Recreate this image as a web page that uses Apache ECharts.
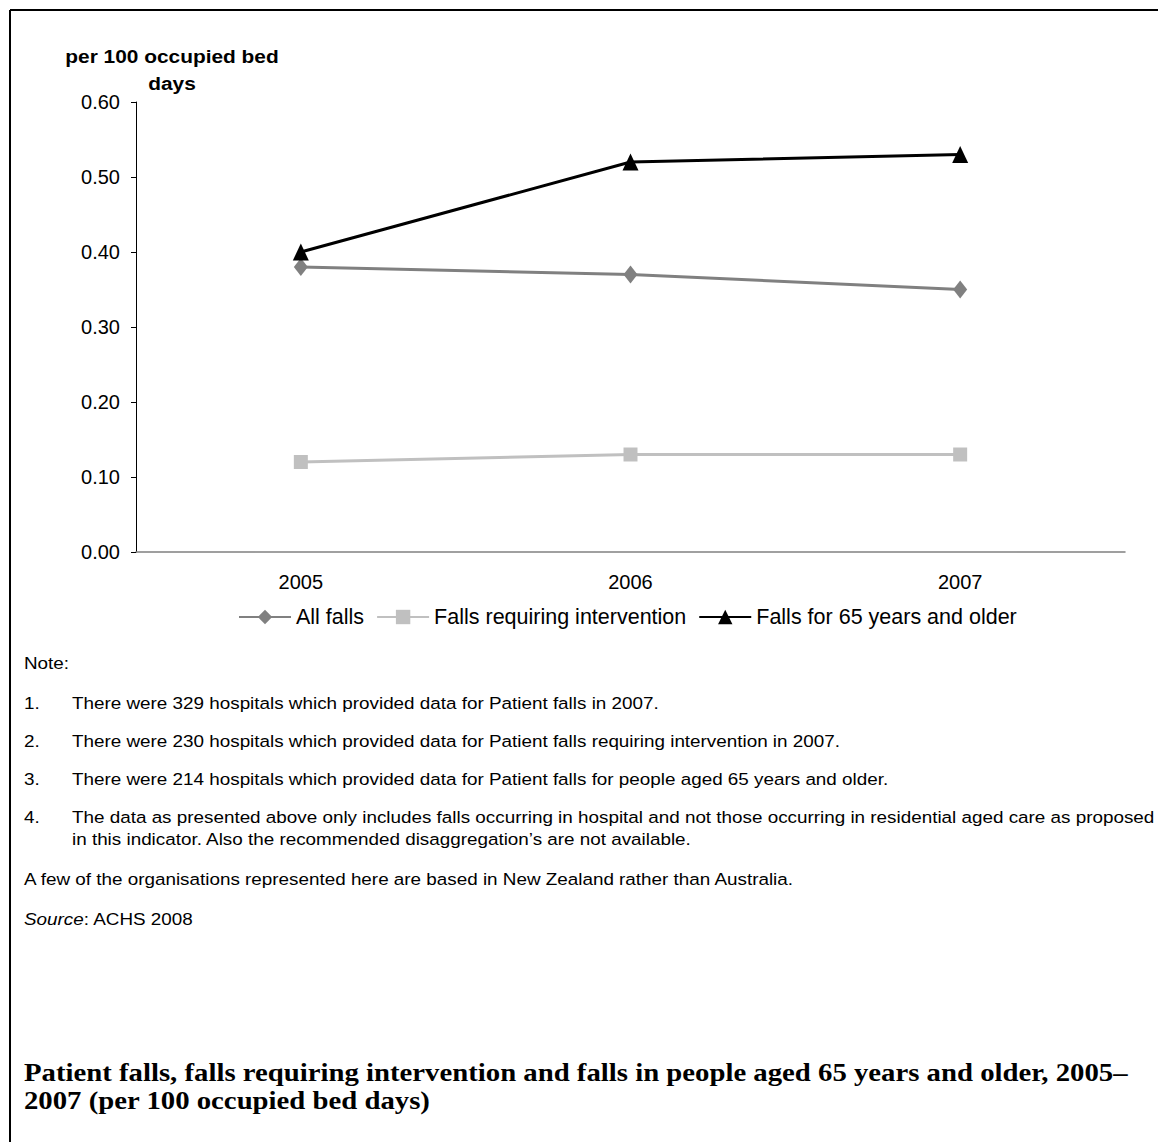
<!DOCTYPE html>
<html>
<head>
<meta charset="utf-8">
<script src="https://cdn.jsdelivr.net/npm/echarts@6/dist/echarts.min.js"></script>
<style>
html,body{margin:0;padding:0;background:#fff;}
#chart{width:1167px;height:1142px;}
</style>
</head>
<body>
<div id="chart"></div>
<script>
// ---- data ----
const categories = ['2005', '2006', '2007'];
const seriesNames = ['All falls', 'Falls requiring intervention', 'Falls for 65 years and older'];
const allFalls = [0.38, 0.37, 0.35];
const fallsIntervention = [0.12, 0.13, 0.13];
const falls65 = [0.40, 0.52, 0.53];
const yMin = 0, yMax = 0.6, yInterval = 0.1;
const yAxisTitle = ['per 100 occupied bed', 'days'];
const noteHeading = 'Note:';
const noteNumbers = ['1.', '2.', '3.', '4.'];
const noteTexts = [
  ['There were 329 hospitals which provided data for Patient falls in 2007.'],
  ['There were 230 hospitals which provided data for Patient falls requiring intervention in 2007.'],
  ['There were 214 hospitals which provided data for Patient falls for people aged 65 years and older.'],
  ['The data as presented above only includes falls occurring in hospital and not those occurring in residential aged care as proposed',
   'in this indicator. Also the recommended disaggregation\u2019s are not available.']
];
const extraNote = 'A few of the organisations represented here are based in New Zealand rather than Australia.';
const sourceLabel = 'Source';
const sourceText = ': ACHS 2008';
const titleLines = ['Patient falls, falls requiring intervention and falls in people aged 65 years and older, 2005\u2013',
                    '2007 (per 100 occupied bed days)'];

// ---- chart ----
const SANS = '"Liberation Sans", Arial, sans-serif';
const SERIF = '"Liberation Serif", "Times New Roman", serif';
const chart = echarts.init(document.getElementById('chart'), null, {renderer: 'svg'});

const graphics = [];
// frame
graphics.push({type: 'line', shape: {x1: 10, y1: 10, x2: 1158, y2: 10}, style: {stroke: '#000', lineWidth: 2}});
graphics.push({type: 'line', shape: {x1: 10, y1: 10, x2: 10, y2: 1142}, style: {stroke: '#000', lineWidth: 2}});
// y axis title
yAxisTitle.forEach((t, i) => {
  graphics.push({type: 'text', x: 172, y: 57 + i * 27, scaleX: 1.16,
    style: {text: t, font: 'bold 18px ' + SANS, fill: '#000', align: 'center', verticalAlign: 'middle'}});
});
// notes
const NX = 24, TX = 72, SX = 1.11;
graphics.push({type: 'text', x: NX, y: 663, scaleX: SX,
  style: {text: noteHeading, font: '17px ' + SANS, fill: '#000', align: 'left', verticalAlign: 'middle'}});
const noteY = [703, 741, 779, 817];
noteNumbers.forEach((n, i) => {
  graphics.push({type: 'text', x: NX, y: noteY[i], scaleX: SX,
    style: {text: n, font: '17px ' + SANS, fill: '#000', align: 'left', verticalAlign: 'middle'}});
  noteTexts[i].forEach((line, j) => {
    graphics.push({type: 'text', x: TX, y: noteY[i] + j * 22, scaleX: SX,
      style: {text: line, font: '17px ' + SANS, fill: '#000', align: 'left', verticalAlign: 'middle'}});
  });
});
graphics.push({type: 'text', x: NX, y: 879, scaleX: SX,
  style: {text: extraNote, font: '17px ' + SANS, fill: '#000', align: 'left', verticalAlign: 'middle'}});
graphics.push({type: 'text', x: NX, y: 919, scaleX: SX,
  style: {text: '{i|' + sourceLabel + '}' + sourceText, font: '17px ' + SANS, fill: '#000', align: 'left', verticalAlign: 'middle',
    rich: {i: {fontStyle: 'italic', fontFamily: SANS, fontSize: 17, fill: '#000'}}}});
// title
titleLines.forEach((t, i) => {
  graphics.push({type: 'text', x: NX, y: 1073 + i * 28, scaleX: 1.15,
    style: {text: t, font: 'bold 25px ' + SERIF, fill: '#000', align: 'left', verticalAlign: 'middle'}});
});

const option = {
  backgroundColor: '#fff',
  animation: false,
  grid: {left: 136, right: 42, top: 102, bottom: 590, containLabel: false},
  legend: {
    data: seriesNames,
    left: 233, top: 601,
    itemWidth: 52, itemHeight: 18, itemGap: 12,
    textStyle: {fontFamily: SANS, fontSize: 21.5, color: '#000'}
  },
  xAxis: {
    type: 'category', data: categories, boundaryGap: true,
    axisLine: {show: true, lineStyle: {color: '#808080', width: 1.5}},
    axisTick: {show: false},
    axisLabel: {color: '#000', fontFamily: SANS, fontSize: 20, margin: 20},
    splitLine: {show: false}
  },
  yAxis: {
    type: 'value', min: yMin, max: yMax, interval: yInterval,
    axisLine: {show: true, lineStyle: {color: '#000', width: 1}},
    axisTick: {show: true, length: 5, lineStyle: {color: '#000'}},
    axisLabel: {color: '#000', fontFamily: SANS, fontSize: 20, margin: 16, formatter: v => v.toFixed(2)},
    splitLine: {show: false}
  },
  series: [
    {name: seriesNames[0], type: 'line', data: allFalls, symbol: 'diamond', symbolSize: [14, 18],
     itemStyle: {color: '#808080'}, lineStyle: {color: '#808080', width: 3}, z: 2},
    {name: seriesNames[1], type: 'line', data: fallsIntervention, symbol: 'rect', symbolSize: 14,
     itemStyle: {color: '#c0c0c0'}, lineStyle: {color: '#c0c0c0', width: 3}, z: 1},
    {name: seriesNames[2], type: 'line', data: falls65, symbol: 'triangle', symbolSize: [16, 17],
     itemStyle: {color: '#000'}, lineStyle: {color: '#000', width: 3}, z: 3}
  ],
  graphic: graphics
};
chart.setOption(option);
</script>
</body>
</html>
